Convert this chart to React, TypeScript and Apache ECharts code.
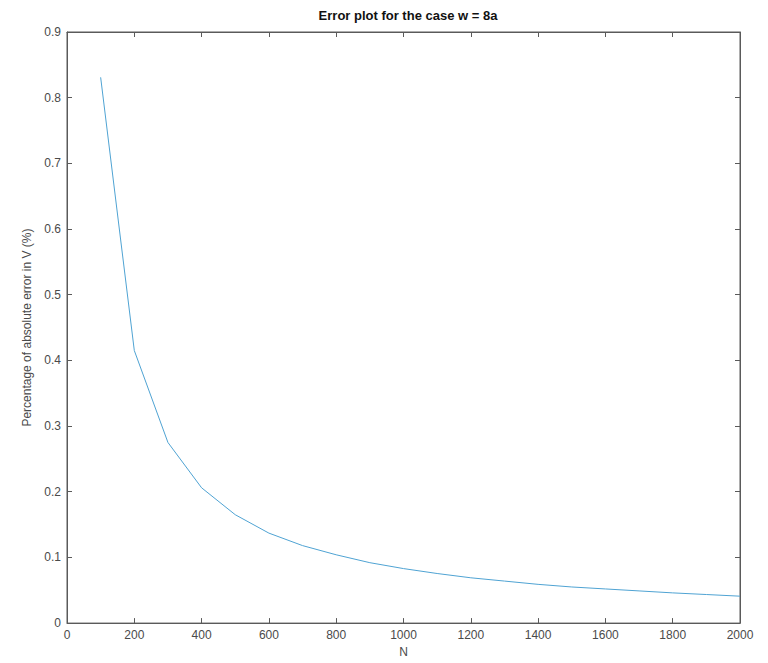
import React, { useEffect, useRef } from "react";
import * as echarts from "echarts";

// Grid sizes N and the measured error (%) at each
const nValues = [100, 200, 300, 400, 500, 600, 700, 800, 900, 1000, 1100, 1200, 1300, 1400, 1500, 1600, 1700, 1800, 1900, 2000];
const errorValues = [0.831, 0.415, 0.275, 0.206, 0.165, 0.137, 0.118, 0.104, 0.092, 0.083, 0.0755, 0.069, 0.064, 0.059, 0.055, 0.052, 0.049, 0.046, 0.0435, 0.041];

const titleText = "Error plot for the case w = 8a";
const xName = "N";
const yName = "Percentage of absolute error in V (%)";

const FONT = "'Liberation Sans', Arial, Helvetica, sans-serif";
const AXIS_COLOR = "#5a5a5a";
const TEXT_COLOR = "#4a4a4a";

const axisLine = () => ({ show: true, onZero: false, lineStyle: { color: AXIS_COLOR, width: 1 } });
const inTick = () => ({ show: true, inside: true, length: 5, lineStyle: { color: AXIS_COLOR, width: 1 } });

export default function App() {
  const ref = useRef<HTMLDivElement>(null);

  useEffect(() => {
    if (!ref.current) return;
    const chart = echarts.init(ref.current, undefined, { renderer: "svg" });

    chart.setOption({
      animation: false,
      backgroundColor: "#ffffff",
      textStyle: { fontFamily: FONT },
      title: {
        text: titleText,
        left: 403,
        top: 4,
        textAlign: "center",
        textStyle: { fontFamily: FONT, fontSize: 13, fontWeight: "bold", color: "#111111" },
      },
      grid: {
        left: 67,
        right: 28,
        top: 32,
        bottom: 33,
        containLabel: false,
        show: true,
        borderColor: AXIS_COLOR,
        borderWidth: 1,
        backgroundColor: "transparent",
      },
      xAxis: [
        {
          type: "value",
          min: 0,
          max: 2000,
          interval: 200,
          name: xName,
          nameLocation: "middle",
          nameGap: 22,
          nameTextStyle: { fontFamily: FONT, fontSize: 12, color: TEXT_COLOR },
          axisLine: axisLine(),
          axisTick: inTick(),
          axisLabel: { fontFamily: FONT, fontSize: 12, color: TEXT_COLOR, margin: 6, formatter: (v: number) => String(v) },
          splitLine: { show: false },
        },
        {
          type: "value",
          position: "top",
          min: 0,
          max: 2000,
          interval: 200,
          axisLine: axisLine(),
          axisTick: inTick(),
          axisLabel: { show: false },
          splitLine: { show: false },
        },
      ],
      yAxis: [
        {
          type: "value",
          min: 0,
          max: 0.9,
          interval: 0.1,
          name: yName,
          nameLocation: "middle",
          nameGap: 27,
          nameRotate: 90,
          nameTextStyle: { fontFamily: FONT, fontSize: 12, color: TEXT_COLOR },
          axisLine: axisLine(),
          axisTick: inTick(),
          axisLabel: {
            fontFamily: FONT,
            fontSize: 12,
            color: TEXT_COLOR,
            margin: 6,
            formatter: (v: number) => (v === 0 ? "0" : String(Math.round(v * 10) / 10)),
          },
          splitLine: { show: false },
        },
        {
          type: "value",
          position: "right",
          min: 0,
          max: 0.9,
          interval: 0.1,
          axisLine: axisLine(),
          axisTick: inTick(),
          axisLabel: { show: false },
          splitLine: { show: false },
        },
      ],
      series: [
        {
          type: "line",
          data: nValues.map((n, i) => [n, errorValues[i]]),
          xAxisIndex: 0,
          yAxisIndex: 0,
          showSymbol: false,
          symbol: "none",
          lineStyle: { color: "#4fa3d3", width: 1 },
        },
      ],
    });

    return () => chart.dispose();
  }, []);

  return (
    <div
      ref={ref}
      style={{ position: "absolute", left: 0, top: 0, width: 768, height: 663 }}
    />
  );
}
